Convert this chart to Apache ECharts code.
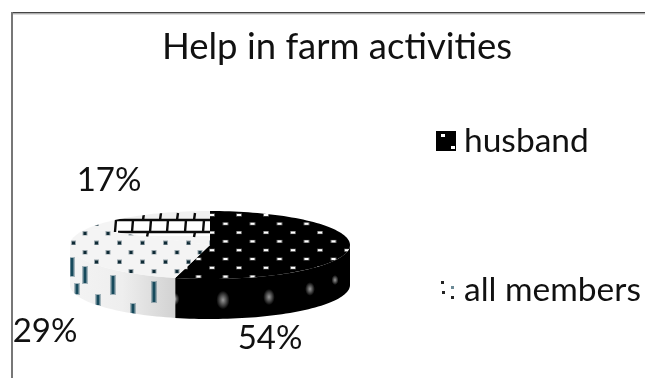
<!DOCTYPE html>
<html><head><meta charset="utf-8">
<script src="https://cdn.jsdelivr.net/npm/echarts@6/dist/echarts.min.js"></script>
<style>html,body{margin:0;padding:0;background:#fff}#c{width:645px;height:378px;filter:blur(0.35px)}</style>
</head><body><div id="c"></div>
<script>
const titleText = 'Help in farm activities';
const categories = ['husband', 'all members', 'other'];
const values = [54, 29, 17];
const legendNames = ['husband', 'all members'];

const FONT = 'Lato, "Open Sans", sans-serif';
const W = 645, H = 378;
const PIE = {cx: 210, cy: 245, rx: 140, ry: 34, depth: 40};
const LABEL_AT = [[270, 338], [45, 331], [109, 180]];

function tex(draw, w, h) {
  const c = document.createElement('canvas');
  c.width = w || W; c.height = h || H;
  draw(c.getContext('2d'), c.width, c.height);
  return {image: c, repeat: 'repeat'};
}
function grid(g, x0, x1, y0, y1, dx, dy, fn) {
  let r = 0;
  for (let y = y0; y < y1; y += dy, r++) {
    for (let x = x0 + (r % 2 ? dx / 2 : 0); x < x1; x += dx) fn(g, x, y);
  }
}
function whiteDot(g, x, y) {
  g.fillStyle = 'rgba(255,255,255,.4)'; g.fillRect(x - 3, y - 1.5, 6, 3);
  g.fillStyle = '#fff'; g.fillRect(x - 2, y - 1, 4, 2);
}
function darkDot(g, x, y) {
  g.fillStyle = 'rgba(20,50,65,.4)'; g.fillRect(x - 2.5, y - 2, 5, 4.5);
  g.fillStyle = '#0e2a35'; g.fillRect(x - 1.5, y - 1, 3, 3);
}
function lightTop(g) {
  g.fillStyle = '#f4f4f4'; g.fillRect(0, 0, W, H);
  grid(g, 62, 215, 214, 282, 23, 9.5, darkDot);
}
const texHusbandTop = tex(g => {
  g.fillStyle = '#000'; g.fillRect(0, 0, W, H);
  grid(g, 185, 360, 215, 280, 27, 8.8, whiteDot);
});
const texMembersTop = tex(lightTop);
const texOtherTop = tex(g => {
  lightTop(g);
  g.fillStyle = '#fff'; g.fillRect(115, 220, 100, 16);
  g.fillStyle = '#f1f1f1'; g.fillRect(115, 208, 100, 12);
  g.strokeStyle = '#0a0a0a'; g.lineWidth = 2.4;
  g.beginPath();
  g.moveTo(115, 220); g.lineTo(212, 220);
  g.moveTo(118, 232); g.lineTo(212, 232);
  [115, 132, 150, 167, 185, 203].forEach(x => { g.moveTo(x + 1, 220); g.lineTo(x, 232); });
  [143, 160, 177, 194].forEach(x => { g.moveTo(x + 1, 213); g.lineTo(x, 220); });
  [147, 194].forEach(x => { g.moveTo(x + 1, 232); g.lineTo(x, 237); });
  g.stroke();
});
const texHusbandSide = tex(g => {
  g.fillStyle = '#000'; g.fillRect(0, 0, W, H);
  [[175, 299, 2], [223, 300, 3], [269, 297, 2.6], [310, 289, 2.2], [335, 280, 1.6]].forEach(([x, y, r]) => {
    const gr = g.createRadialGradient(x, y, 0, x, y, r * 2.2);
    gr.addColorStop(0, 'rgba(170,170,170,.9)'); gr.addColorStop(1, 'rgba(170,170,170,0)');
    g.fillStyle = gr;
    g.save(); g.translate(x, y); g.scale(1, 1.4); g.translate(-x, -y);
    g.fillRect(x - 14, y - 14, 28, 28); g.restore();
  });
});
const texMembersSide = tex(g => {
  const lin = g.createLinearGradient(70, 0, 175, 0);
  lin.addColorStop(0, '#f4f4f4'); lin.addColorStop(.5, '#eeeeee'); lin.addColorStop(1, '#d2d2d2');
  g.fillStyle = lin; g.fillRect(0, 0, W, H);
  [[72, 267, 9], [85, 275, 8], [77, 289, 5], [113, 285, 9], [98, 300, 5], [133, 309, 5], [154, 292, 10]].forEach(([x, y, h]) => {
    g.fillStyle = 'rgba(20,70,90,.35)'; g.fillRect(x - 3, y - h - 1, 6, 2 * h + 2);
    g.fillStyle = '#174a5c'; g.fillRect(x - 1.5, y - h, 3, 2 * h);
  });
});
const texLegendHusband = tex((g, w, h) => {
  g.fillStyle = '#000'; g.fillRect(0, 0, w, h);
  g.fillStyle = '#fff'; g.fillRect(5, 3, 4, 3); g.fillRect(15, 15, 4, 3);
}, 20, 20);
const texLegendMembers = tex((g, w, h) => {
  g.fillStyle = '#fff'; g.fillRect(0, 0, w, h);
  g.fillStyle = '#222'; g.fillRect(5, 1, 3, 3); g.fillRect(6, 11, 3, 3); g.fillRect(15, 16, 3, 3);
  g.fillStyle = '#6c8a96'; g.fillRect(15, 6, 3, 3);
}, 20, 20);

const topFill = [texHusbandTop, texMembersTop, texOtherTop];
const sideFill = [texHusbandSide, texMembersSide, null];
const total = values.reduce((a, b) => a + b, 0);

function pt(deg, drop) {
  const r = deg * Math.PI / 180;
  return [PIE.cx + PIE.rx * Math.sin(r), PIE.cy - PIE.ry * Math.cos(r) + (drop || 0)];
}
function arc(a0, a1, drop) {
  const n = Math.max(2, Math.ceil(Math.abs(a1 - a0) / 2)), out = [];
  for (let i = 0; i <= n; i++) out.push(pt(a0 + (a1 - a0) * i / n, drop));
  return out;
}
function renderSlice(i) {
  return function (params, api) {
    const v = api.value(0);
    const before = values.slice(0, i).reduce((a, b) => a + b, 0);
    const a0 = before / total * 360, a1 = a0 + v / total * 360;
    const children = [];
    const s0 = Math.max(a0, 90), s1 = Math.min(a1, 270);
    if (s1 > s0 && sideFill[i]) {
      children.push({type: 'polygon', shape: {points: arc(s0, s1, 0).concat(arc(s1, s0, PIE.depth))},
        style: {fill: sideFill[i]}});
    }
    children.push({type: 'polygon', shape: {points: [[PIE.cx, PIE.cy]].concat(arc(a0, a1, 0))},
      style: {fill: topFill[i]}});
    children.push({type: 'text', x: LABEL_AT[i][0], y: LABEL_AT[i][1],
      style: {text: v + '%', fill: '#111', font: '33px ' + FONT, align: 'center', verticalAlign: 'middle'}});
    return {type: 'group', children};
  };
}

const chart = echarts.init(document.getElementById('c'), null, {renderer: 'canvas', width: W, height: H});
chart.setOption({
  animation: false,
  backgroundColor: '#fff',
  title: {text: titleText, left: 332, top: 24, textAlign: 'center',
    textStyle: {fontFamily: FONT, fontSize: 36.5, fontWeight: 'normal', color: '#111'}},
  legend: {
    orient: 'vertical', left: 431, top: 119, itemWidth: 20, itemHeight: 20, itemGap: 115,
    selectedMode: false,
    textStyle: {fontFamily: FONT, fontSize: 33.5, color: '#111', padding: [0, 0, 9, 3]},
    data: [
      {name: legendNames[0], icon: 'rect', itemStyle: {color: texLegendHusband}},
      {name: legendNames[1], icon: 'rect', itemStyle: {color: texLegendMembers}}
    ]
  },
  graphic: [
    {type: 'rect', shape: {x: 11, y: 12, width: W - 11, height: 1.5}, style: {fill: '#444'}},
    {type: 'rect', shape: {x: 11, y: 13.5, width: W - 11, height: 1}, style: {fill: '#bbb'}},
    {type: 'rect', shape: {x: 11, y: 12, width: 2, height: H - 12}, style: {fill: '#777'}}
  ],
  series: categories.map((name, i) => ({
    type: 'custom', name, coordinateSystem: 'none', silent: true,
    renderItem: renderSlice(i), data: [[values[i]]]
  }))
});
</script></body></html>
